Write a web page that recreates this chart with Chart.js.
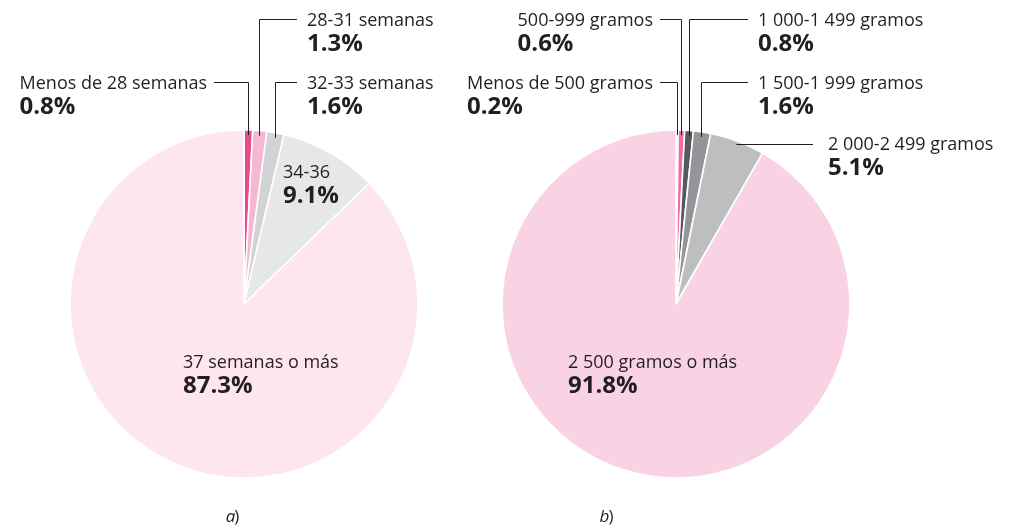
<!DOCTYPE html>
<html lang="es">
<head>
<meta charset="utf-8">
<script src="https://cdn.jsdelivr.net/npm/chart.js@4/dist/chart.umd.min.js"></script>
<style>
  html, body { margin: 0; padding: 0; background: #fff; }
  #wrap { position: relative; width: 1013px; height: 532px; }
  #wrap canvas { position: absolute; left: 0; top: 0; }
</style>
</head>
<body>
<div id="wrap">
  <canvas id="pieA" width="1013" height="532"></canvas>
  <canvas id="pieB" width="1013" height="532"></canvas>
</div>
<script>
// Nacimientos según semanas de gestación (%)
const gestacionCategorias = ['Menos de 28 semanas', '28-31 semanas', '32-33 semanas', '34-36', '37 semanas o más'];
const gestacionValores = [0.8, 1.3, 1.6, 9.1, 87.3];

// Nacimientos según peso al nacer (%)
const pesoCategorias = ['Menos de 500 gramos', '500-999 gramos', '1 000-1 499 gramos', '1 500-1 999 gramos', '2 000-2 499 gramos', '2 500 gramos o más'];
const pesoValores = [0.2, 0.6, 0.8, 1.6, 5.1, 91.8];

const coloresGestacion = ['#e94a8c', '#f5b7d1', '#d1d3d4', '#e6e7e8', '#fde6ef'];
const coloresPeso = ['#d42a72', '#f06ca6', '#58595b', '#939598', '#bcbec0', '#f9d3e4'];

const TEXT = '#231f20';
const FAMILY = '"Open Sans", Lato, "Liberation Sans", sans-serif';
const FONT_NAME = '18px ' + FAMILY;
const FONT_PCT = 'bold 24px ' + FAMILY;

// Label placement for each slice:
//  left   -> name right-aligned at x, leader goes right then down into the slice
//  right  -> name left-aligned at x, leader goes left then down into the slice
//  side   -> name left-aligned at x, horizontal leader into the slice
//  inside -> text inside the slice, no leader
const layoutGestacion = [
  { mode: 'left',   x: 207, y: 89,  lineY: 82 },
  { mode: 'right',  x: 307, y: 26,  lineY: 19 },
  { mode: 'right',  x: 307, y: 89,  lineY: 82 },
  { mode: 'inside', x: 283, y: 178 },
  { mode: 'inside', x: 183, y: 368 }
];
const layoutPeso = [
  { mode: 'left',   x: 653, y: 89,  lineY: 82 },
  { mode: 'left',   x: 653, y: 26,  lineY: 19 },
  { mode: 'right',  x: 758, y: 26,  lineY: 19 },
  { mode: 'right',  x: 758, y: 89,  lineY: 82 },
  { mode: 'side',   x: 828, y: 150, lineY: 144 },
  { mode: 'inside', x: 568, y: 368 }
];

const fmt = v => v.toFixed(1) + '%';

const sliceLabels = {
  id: 'sliceLabels',
  afterDatasetsDraw(chart, args, opts) {
    const ctx = chart.ctx;
    const meta = chart.getDatasetMeta(0);
    const labels = chart.data.labels;
    const values = chart.data.datasets[0].data;
    ctx.save();
    ctx.fillStyle = TEXT;
    ctx.strokeStyle = TEXT;
    ctx.lineWidth = 1;
    ctx.textBaseline = 'alphabetic';
    opts.layout.forEach((L, i) => {
      const arc = meta.data[i];
      const p = arc.getProps(['x', 'y', 'startAngle', 'endAngle', 'outerRadius'], true);
      const mid = (p.startAngle + p.endAngle) / 2;
      const name = labels[i];
      const pct = fmt(values[i]);
      ctx.font = FONT_NAME;
      const w = ctx.measureText(name).width;
      const nameX = L.mode === 'left' ? L.x - w : L.x;
      ctx.textAlign = 'left';
      ctx.fillText(name, nameX, L.y);
      ctx.font = FONT_PCT;
      ctx.fillText(pct, nameX, L.y + 25);

      if (L.mode === 'left' || L.mode === 'right') {
        const r = p.outerRadius - 5;
        const ax = Math.round(p.x + r * Math.cos(mid)) + 0.5;
        const ay = p.y + r * Math.sin(mid);
        const sx = L.mode === 'left' ? L.x + 7 : L.x - 10;
        ctx.beginPath();
        ctx.moveTo(sx, L.lineY + 0.5);
        ctx.lineTo(ax, L.lineY + 0.5);
        ctx.lineTo(ax, ay);
        ctx.stroke();
      } else if (L.mode === 'side') {
        const t = (L.lineY - p.y) / Math.sin(mid);
        const ax = p.x + t * Math.cos(mid);
        ctx.beginPath();
        ctx.moveTo(L.x - 15, L.lineY + 0.5);
        ctx.lineTo(ax, L.lineY + 0.5);
        ctx.stroke();
      }
    });
    ctx.restore();
  }
};

const caption = {
  id: 'caption',
  afterDraw(chart, args, opts) {
    const ctx = chart.ctx;
    ctx.save();
    ctx.fillStyle = TEXT;
    ctx.textBaseline = 'alphabetic';
    ctx.textAlign = 'left';
    const it = 'italic 17px ' + FAMILY;
    const up = '17px ' + FAMILY;
    ctx.font = it;
    const wl = ctx.measureText(opts.letter).width;
    ctx.font = up;
    const wp = ctx.measureText(')').width;
    const x0 = opts.x - (wl + wp) / 2;
    ctx.font = it;
    ctx.fillText(opts.letter, x0, opts.y);
    ctx.font = up;
    ctx.fillText(')', x0 + wl - 1, opts.y);
    ctx.restore();
  }
};

function makePie(id, cats, vals, colors, layout, pad, letter, capX) {
  return new Chart(document.getElementById(id), {
    type: 'pie',
    data: {
      labels: cats,
      datasets: [{
        data: vals,
        backgroundColor: colors,
        borderColor: '#ffffff',
        borderWidth: 1.6,
        hoverOffset: 0,
        radius: 174
      }]
    },
    options: {
      responsive: false,
      animation: false,
      devicePixelRatio: 1,
      events: [],
      layout: { padding: pad },
      plugins: {
        legend: { display: false },
        tooltip: { enabled: false },
        sliceLabels: { layout },
        caption: { letter, x: capX, y: 522 }
      }
    },
    plugins: [sliceLabels, caption]
  });
}

makePie('pieA', gestacionCategorias, gestacionValores, coloresGestacion, layoutGestacion,
  { left: 70, right: 595, top: 130, bottom: 54 }, 'a', 233);
makePie('pieB', pesoCategorias, pesoValores, coloresPeso, layoutPeso,
  { left: 502, right: 163, top: 130, bottom: 54 }, 'b', 607);
</script>
</body>
</html>
